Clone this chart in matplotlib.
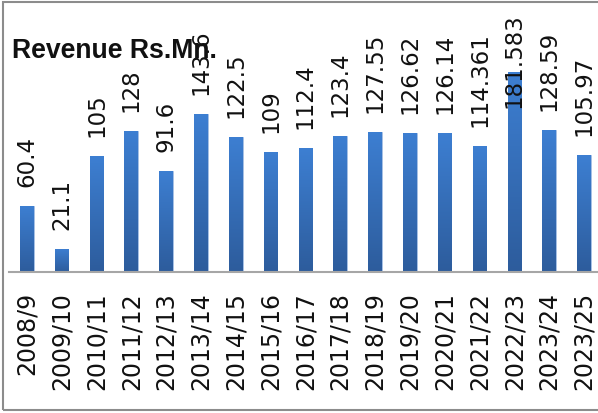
import numpy as np
import matplotlib
matplotlib.use('Agg')
from matplotlib import pyplot as plt
from matplotlib.patches import Rectangle
from matplotlib.colors import LinearSegmentedColormap

# revenue per year (Rs. Mn.)
years = ['2008/9', '2009/10', '2010/11', '2011/12', '2012/13', '2013/14',
         '2014/15', '2015/16', '2016/17', '2017/18', '2018/19', '2019/20',
         '2020/21', '2021/22', '2022/23', '2023/24', '2023/25']
revenue = [60.4, 21.1, 105, 128, 91.6, 143.6, 122.5, 109, 112.4, 123.4,
           127.55, 126.62, 126.14, 114.361, 181.583, 128.59, 105.97]
value_labels = ['60.4', '21.1', '105', '128', '91.6', '143.6', '122.5', '109',
                '112.4', '123.4', '127.55', '126.62', '126.14', '114.361',
                '181.583', '128.59', '105.97']

W, H = 598, 414
fig = plt.figure(figsize=(W / 100, H / 100), dpi=100)

# axes placed in pixel terms
left, right, base, top = 9.4, 601.4, 273.3, 13
ax = fig.add_axes([left / W, (H - base) / H, (right - left) / W, (base - top) / H])
ax.set_xlim(-0.5, len(years) - 0.5)
ax.set_ylim(0, 236)

x = np.arange(len(years))
bars = ax.bar(x, revenue, width=0.39, color='#3872c0', edgecolor='#a9c2e6',
              linewidth=0.6, zorder=2)

# vertical gradient on each bar
cmap = LinearSegmentedColormap.from_list('g', ['#2d5c9c', '#3d7fd2'])
grad = np.linspace(0, 1, 256).reshape(-1, 1)
for b in bars:
    bx, bw, bh = b.get_x(), b.get_width(), b.get_height()
    im = ax.imshow(grad, cmap=cmap, origin='lower', aspect='auto',
                   extent=[bx, bx + bw, 0, bh], zorder=2.5)
    im.set_clip_path(b)

ax.set_xticks(x)
ax.set_xticklabels(years, rotation=90, fontsize=17, family='DejaVu Sans', color='#111111')
ax.tick_params(axis='x', length=0, pad=13.5)
ax.set_yticks([])
for s in ['left', 'right', 'top']:
    ax.spines[s].set_visible(False)
ax.spines['bottom'].set_color('#a6a6a6')
ax.spines['bottom'].set_linewidth(1.5)
ax.spines['bottom'].set_zorder(3)

texts = []
for i, (v, lab) in enumerate(zip(revenue, value_labels)):
    t = ax.annotate(lab, (i, v), xytext=(0, 14.4), textcoords='offset points',
                    rotation=90, ha='center', va='bottom', fontsize=16.5,
                    family='DejaVu Sans', color='#111111', zorder=4,
                    annotation_clip=False)
    texts.append(t)

# keep labels inside the plot area (like the original)
fig.canvas.draw()
r = fig.canvas.get_renderer()
ax_top = ax.get_window_extent(r).y1
for t in texts:
    bb = t.get_window_extent(r)
    if bb.y1 > ax_top:
        dy = (bb.y1 - ax_top) * 72 / fig.dpi
        t.xyann = (0, t.xyann[1] - dy)

fig.text(11.7 / W, (H - 58) / H, 'Revenue Rs.Mn.', fontsize=19.2,
         fontweight='bold', family=['Liberation Sans', 'DejaVu Sans'],
         color='#111111', va='baseline', ha='left', zorder=5)

fig.patches.append(Rectangle((2.7 / W, 3.3 / H), 1.0, (H - 6.6) / H,
                             transform=fig.transFigure, fill=False,
                             edgecolor='#8c8c8c', linewidth=1.5, zorder=0))

fig.savefig('out.png', dpi=100)
